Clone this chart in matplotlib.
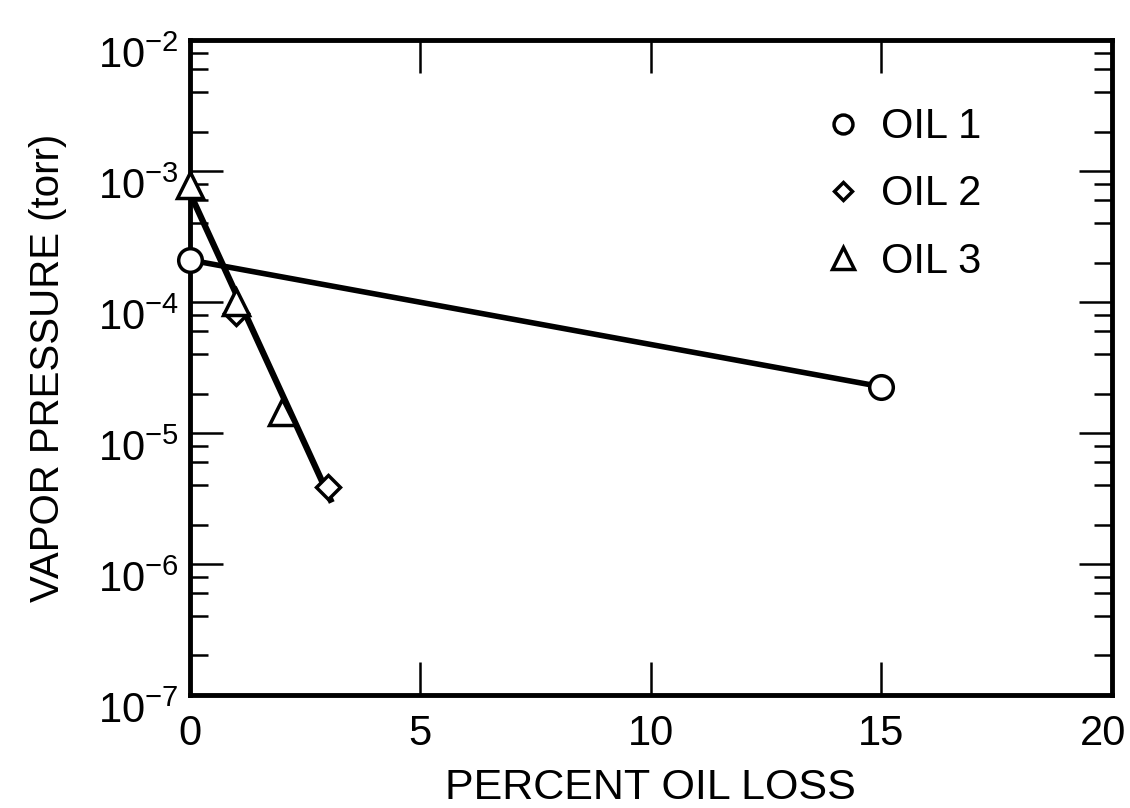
import matplotlib
matplotlib.use("Agg")
import matplotlib.pyplot as plt
import matplotlib.transforms as mtransforms
from matplotlib.ticker import LogLocator, FixedLocator, NullFormatter

# data
oil1_x = [0, 15]
oil1_y = [2.1e-4, 2.26e-5]
oil2_x = [1, 3]
oil2_y = [8.3e-5, 3.9e-6]
oil3_x = [0, 1, 2]
oil3_y = [7.8e-4, 1.0e-4, 1.44e-5]
# straight fit drawn through oils 2 and 3
fit23_x = [0.07, 3.05]
fit23_y = [6.05e-4, 3.1e-6]

x_ticks = [0, 5, 10, 15, 20]
y_decades = [1e-7, 1e-6, 1e-5, 1e-4, 1e-3, 1e-2]
y_labels = [r"$\mathregular{10^{-7}}$", r"$\mathregular{10^{-6}}$",
            r"$\mathregular{10^{-5}}$", r"$\mathregular{10^{-4}}$",
            r"$\mathregular{10^{-3}}$", r"$\mathregular{10^{-2}}$"]

FONT = ["Liberation Sans", "DejaVu Sans"]
plt.rcParams["font.family"] = FONT
plt.rcParams["mathtext.fontset"] = "custom"
plt.rcParams["mathtext.rm"] = FONT[0]

fig = plt.figure(figsize=(11.3, 8.08), dpi=100)
ax = fig.add_axes([0.168, 0.140, 0.816, 0.810])

ax.plot(oil1_x, oil1_y, color="black", lw=4, zorder=2)
ax.plot(fit23_x, fit23_y, color="black", lw=4.5, zorder=2)

mk = dict(linestyle="none", markerfacecolor="white", markeredgecolor="black",
          markeredgewidth=2.5, zorder=3, clip_on=False)
ax.plot(oil1_x, oil1_y, marker="o", markersize=17, label="OIL 1", **mk)
ax.plot(oil2_x, oil2_y, marker="D", markersize=12, label="OIL 2", **mk)
ax.plot(oil3_x, oil3_y, marker="^", markersize=19, label="OIL 3", **mk)

ax.set_yscale("log")
ax.set_xlim(0, 20)
ax.set_ylim(1e-7, 1e-2)

ax.xaxis.set_major_locator(FixedLocator(x_ticks))
ax.set_xticklabels([str(t) for t in x_ticks])
ax.yaxis.set_major_locator(FixedLocator(y_decades))
ax.set_yticklabels(y_labels)
ax.yaxis.set_minor_locator(LogLocator(base=10, subs=[2, 4, 6, 8]))
ax.yaxis.set_minor_formatter(NullFormatter())

ax.tick_params(axis="both", which="major", direction="in", top=True, right=True,
               length=24, width=1.8, labelsize=30)
ax.tick_params(axis="x", which="major", pad=14)
ax.tick_params(axis="y", which="major", pad=8)
ax.tick_params(axis="y", which="minor", direction="in", right=True,
               length=13, width=1.8)

# exponent sits at the tick, base "10" hangs below it
shift = mtransforms.ScaledTranslation(0, -12 / 100, fig.dpi_scale_trans)
for lab in ax.get_yticklabels():
    lab.set_transform(lab.get_transform() + shift)
# keep the last x label inside the figure edge
xlabs = ax.get_xticklabels()
nudge = mtransforms.ScaledTranslation(-9 / 100, 0, fig.dpi_scale_trans)
xlabs[-1].set_transform(xlabs[-1].get_transform() + nudge)

for s in ax.spines.values():
    s.set_linewidth(3.5)

ax.set_xlabel("PERCENT OIL LOSS", fontsize=31, labelpad=10)
ax.set_ylabel("VAPOR PRESSURE (torr)", fontsize=29, labelpad=22)

ax.legend(loc="upper left", bbox_to_anchor=(0.65, 0.955), frameon=False,
          fontsize=30, handlelength=0.8, handletextpad=0.5, labelspacing=0.65,
          markerscale=0.8)

fig.savefig("out.png", dpi=100)
